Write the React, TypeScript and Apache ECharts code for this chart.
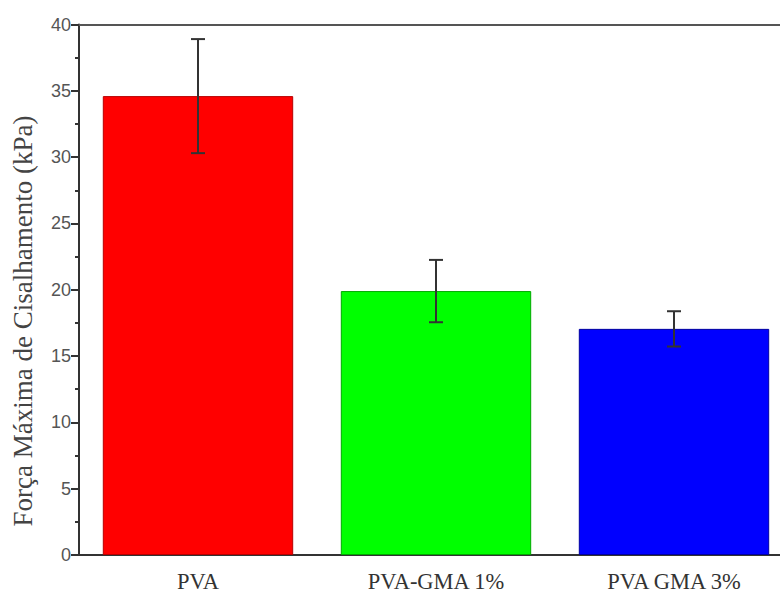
import React, { useEffect, useRef } from "react";
import * as echarts from "echarts";

const categories = ["PVA", "PVA-GMA 1%", "PVA GMA 3%"];
const means = [34.6, 19.9, 17.05];
const errors = [4.3, 2.35, 1.33];
const barColors = ["#ff0000", "#00ff00", "#0000ff"];
const barBorders = ["#b80000", "#00a800", "#0000a0"];
const yTicks = [0, 5, 10, 15, 20, 25, 30, 35, 40];
const yTitle = "Força Máxima de Cisalhamento (kPa)";

export default function App() {
  const ref = useRef<HTMLDivElement>(null);
  useEffect(() => {
    if (!ref.current) return;
    const chart = echarts.init(ref.current, undefined, { renderer: "svg" });
    const errData = means.map((m, i) => [i, m - errors[i], m + errors[i]]);
    chart.setOption({
      animation: false,
      backgroundColor: "#ffffff",
      grid: { left: 79, right: -13, top: 24.5, bottom: 38, outerBoundsMode: "none", containLabel: false },
      graphic: [
        {
          type: "text",
          x: 23,
          y: 321,
          rotation: Math.PI / 2,
          style: {
            text: yTitle,
            fontFamily: "Liberation Serif",
            fontSize: 27,
            fill: "#444",
            align: "center",
            verticalAlign: "middle",
          },
        },
      ],
      xAxis: [
        {
          type: "category",
          data: categories,
          position: "bottom",
          axisLine: { lineStyle: { color: "#333", width: 2 } },
          axisTick: { alignWithLabel: true, length: 9, lineStyle: { color: "#333", width: 2 } },
          axisLabel: {
            fontFamily: "Liberation Serif",
            fontSize: 22.5,
            color: "#333",
            margin: 15,
          },
        },
        {
          type: "category",
          data: categories,
          position: "top",
          axisLine: { lineStyle: { color: "#555", width: 2 } },
          axisTick: { show: false },
          axisLabel: { show: false },
        },
      ],
      yAxis: {
        type: "value",
        min: yTicks[0],
        max: yTicks[yTicks.length - 1],
        interval: 5,
        axisLine: { show: true, lineStyle: { color: "#333", width: 2 } },
        axisTick: { show: true, length: 8, lineStyle: { color: "#333", width: 2 } },
        minorTick: { show: true, splitNumber: 2, length: 4, lineStyle: { color: "#333", width: 2 } },
        splitLine: { show: false },
        axisLabel: { fontFamily: "Liberation Sans", fontSize: 18, color: "#555", margin: 8 },
      },
      series: [
        {
          type: "bar",
          barWidth: "80%",
          data: means.map((v, i) => ({
            value: v,
            itemStyle: { color: barColors[i], borderColor: barBorders[i], borderWidth: 1 },
          })),
        },
        {
          type: "custom",
          data: errData,
          z: 10,
          renderItem: (params: any, api: any) => {
            const x = api.value(0);
            const lo = api.coord([x, api.value(1)]);
            const hi = api.coord([x, api.value(2)]);
            const half = 7;
            const style = { stroke: "#333", lineWidth: 2 };
            return {
              type: "group",
              children: [
                { type: "line", shape: { x1: hi[0], y1: hi[1], x2: lo[0], y2: lo[1] }, style },
                { type: "line", shape: { x1: hi[0] - half, y1: hi[1], x2: hi[0] + half, y2: hi[1] }, style },
                { type: "line", shape: { x1: lo[0] - half, y1: lo[1], x2: lo[0] + half, y2: lo[1] }, style },
              ],
            };
          },
        },
      ],
    });
    return () => chart.dispose();
  }, []);
  return <div ref={ref} style={{ width: 780, height: 593, position: "fixed", left: 0, top: 0 }} />;
}
